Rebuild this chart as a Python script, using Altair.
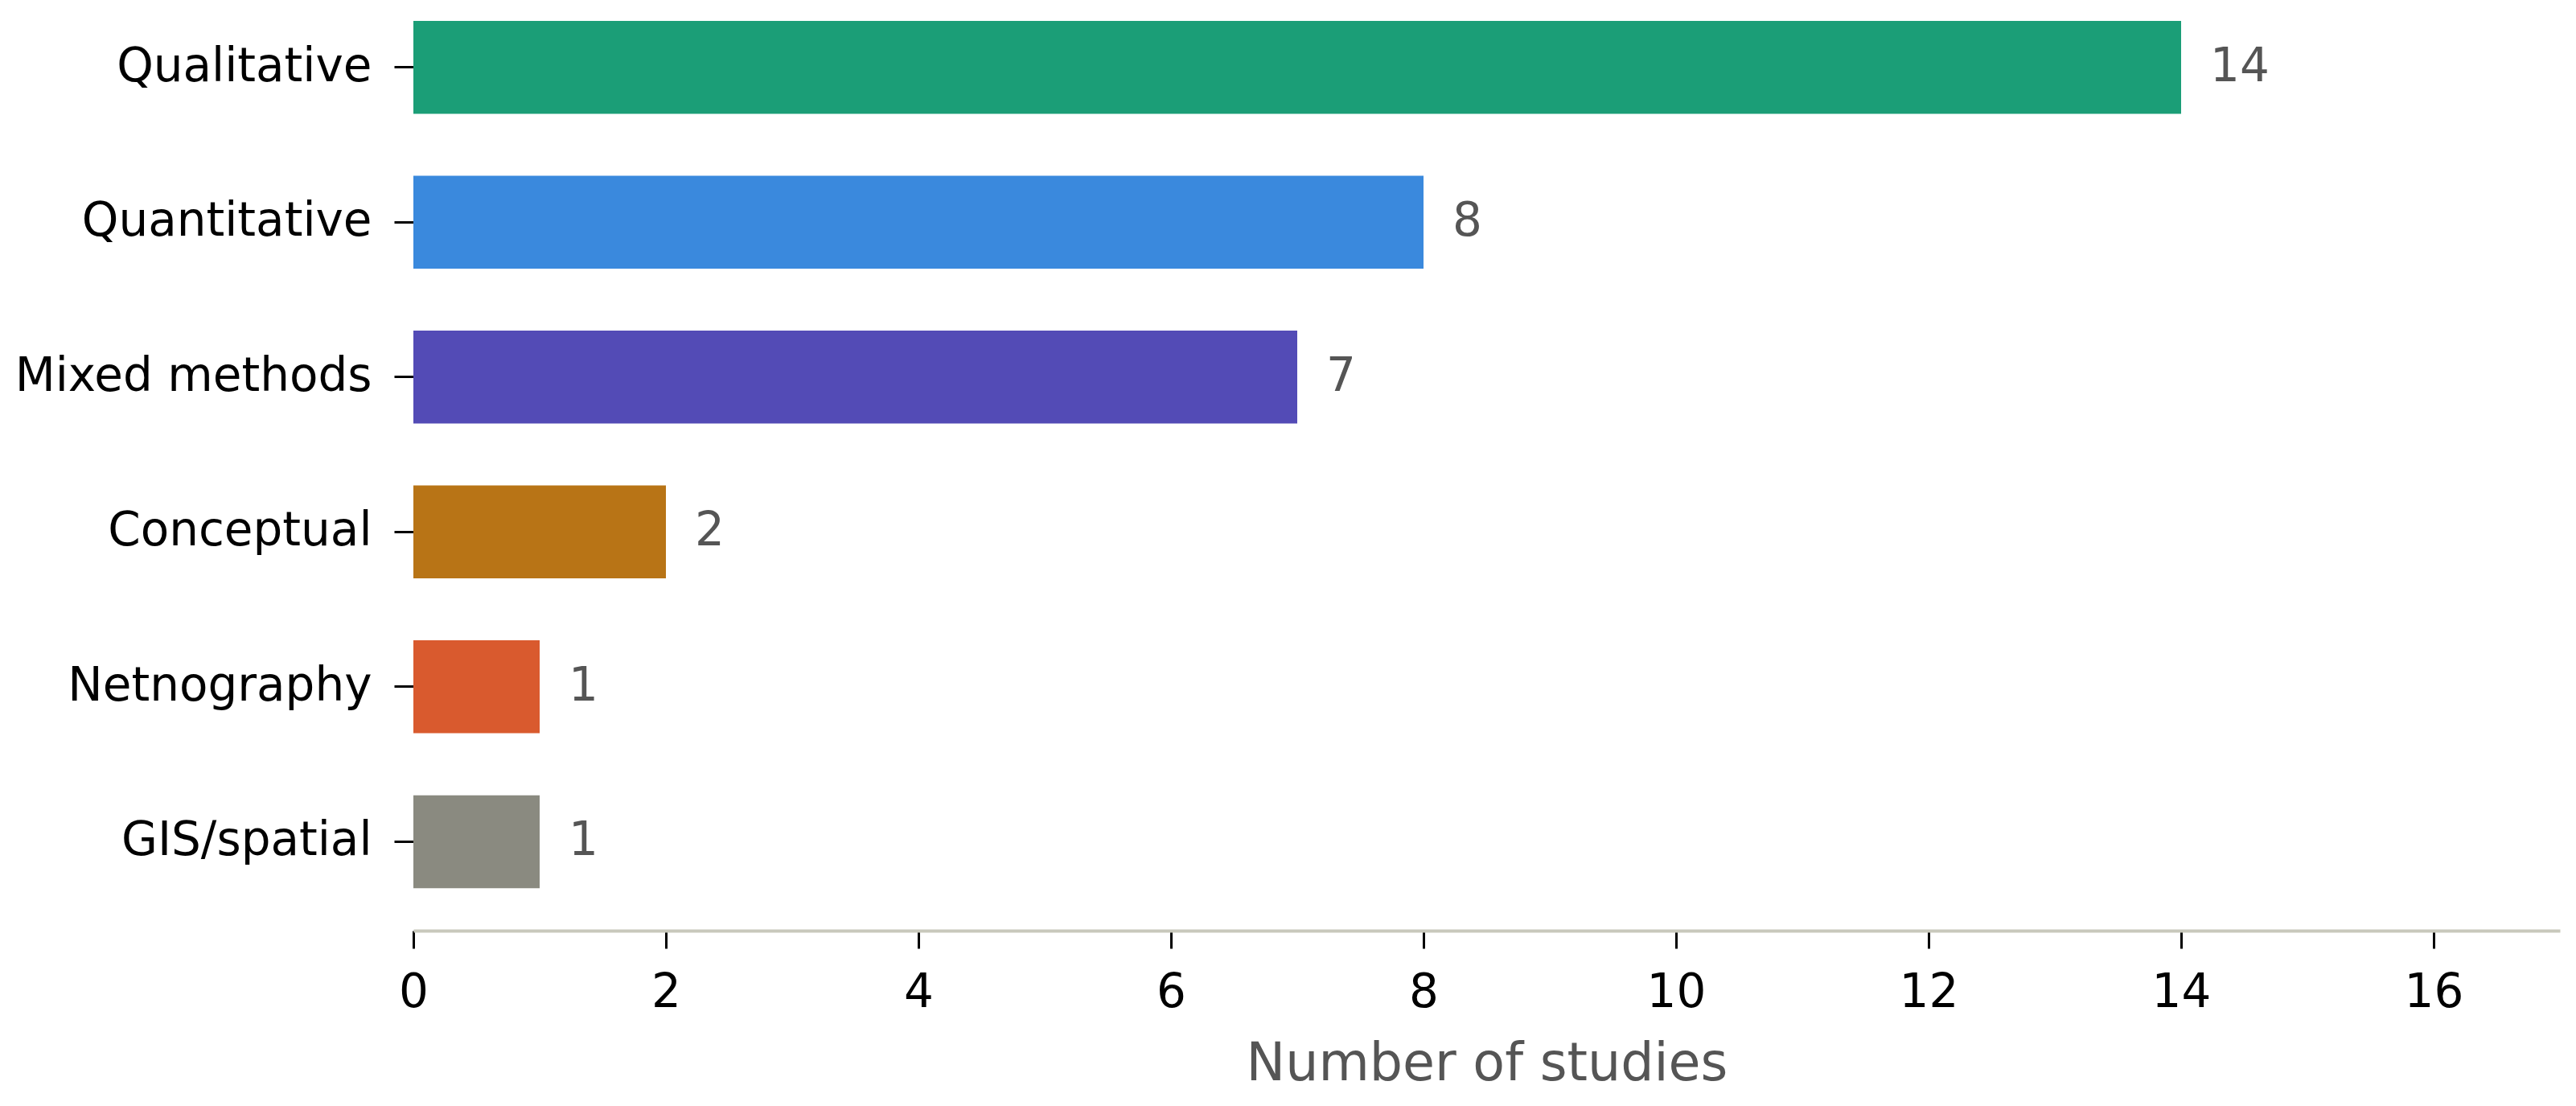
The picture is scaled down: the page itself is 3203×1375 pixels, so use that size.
import altair as alt
import pandas as pd

categories = ["Qualitative", "Quantitative", "Mixed methods", "Conceptual", "Netnography", "GIS/spatial"]
counts = [14, 8, 7, 2, 1, 1]
colors = ["#1b9e77", "#3a89dd", "#534bb6", "#b87416", "#d95a2e", "#8a8a80"]
x_ticks = [0, 2, 4, 6, 8, 10, 12, 14, 16]

df = pd.DataFrame({"method": categories, "count": counts})

FONT = "DejaVu Sans"

y_enc = alt.Y(
    "method:N",
    sort=categories,
    title=None,
    scale=alt.Scale(paddingInner=0.4, paddingOuter=0.184, align=0.254),
    axis=alt.Axis(
        domain=False,
        ticks=True,
        tickSize=24,
        tickWidth=3,
        tickColor="#000000",
        labelPadding=28,
        labelFontSize=58,
        labelFont=FONT,
        labelColor="#000000",
        labelLimit=0,
        minExtent=498,
        maxExtent=498,
        grid=False,
    ),
)

x_enc = alt.X(
    "count:Q",
    scale=alt.Scale(domain=[0, 17], nice=False, zero=True),
    axis=alt.Axis(
        values=x_ticks,
        title="Number of studies",
        titleFont=FONT,
        titleFontSize=65,
        titleFontWeight="normal",
        titleColor="#555555",
        titleBaseline="alphabetic",
        titleY=185,
        domain=True,
        domainColor="#c8c8bc",
        domainWidth=4,
        ticks=True,
        tickSize=22,
        tickWidth=3,
        tickColor="#000000",
        labelFontSize=58,
        labelFont=FONT,
        labelColor="#000000",
        labelBaseline="alphabetic",
        labelPadding=72,
        labelFlush=False,
        grid=False,
        format="d",
    ),
)

bars = alt.Chart(df).mark_bar().encode(
    x=x_enc,
    y=y_enc,
    color=alt.Color("method:N", scale=alt.Scale(domain=categories, range=colors), legend=None),
)

labels = alt.Chart(df).mark_text(
    align="left", baseline="middle", dx=36, fontSize=58, font=FONT, color="#555555"
).encode(
    x=alt.X("count:Q"),
    y=alt.Y("method:N", sort=categories),
    text=alt.Text("count:Q"),
)

chart = (
    alt.layer(bars, labels)
    .properties(
        width=2669,
        height=1149,
        padding={"left": 8, "top": 0, "right": 10, "bottom": 10},
        view=alt.ViewBackground(stroke="transparent", strokeWidth=0, strokeOpacity=0),
    )
    .configure_view(stroke="transparent", strokeWidth=0, strokeOpacity=0)
    .configure(background="#ffffff")
)

chart.save("out.html", embed_options={"renderer": "svg", "actions": False})
